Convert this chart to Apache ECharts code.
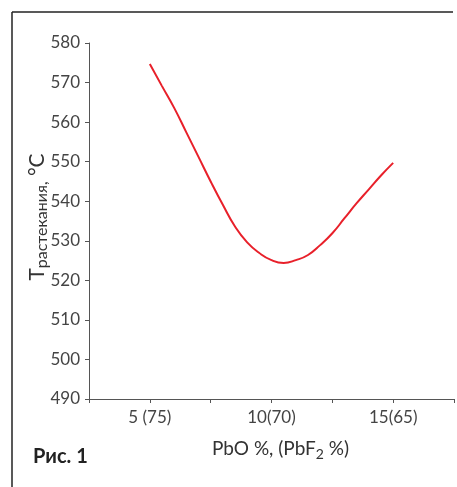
<!DOCTYPE html>
<html>
<head>
<meta charset="utf-8">
<script src="https://cdn.jsdelivr.net/npm/echarts@6/dist/echarts.min.js"></script>
<style>html,body{margin:0;padding:0;background:#fff;}#c{width:457px;height:487px;}</style>
</head>
<body>
<div id="c"></div>
<script>
var xValues = [5, 5.5, 6, 6.5, 7, 7.5, 8, 8.5, 9, 9.5, 10, 10.5, 11, 11.5, 12, 12.5, 13, 13.5, 14, 14.5, 15];
var yValues = [574.7, 569.1, 563.6, 557.4, 551.2, 545.0, 539.1, 533.6, 529.6, 526.9, 525.1, 524.4, 525.1, 526.4, 528.9, 531.9, 535.7, 539.5, 543.0, 546.5, 549.7];
var xTickLabels = {5: '5 (75)', 10: '10(70)', 15: '15(65)'};
var yTicks = [490, 500, 510, 520, 530, 540, 550, 560, 570, 580];

var font = 'Lato, "Open Sans", sans-serif';
var chart = echarts.init(document.getElementById('c'));
chart.setOption({
  animation: false,
  grid: {left: 89, right: 0, top: 43, bottom: 88},
  xAxis: {
    type: 'value', min: 2.5, max: 17.5, interval: 2.5,
    splitLine: {show: false},
    axisLine: {lineStyle: {color: '#555', width: 1}},
    axisTick: {length: 4, lineStyle: {color: '#555'}},
    axisLabel: {
      color: '#444', fontSize: 17, fontFamily: font, margin: 10,
      showMinLabel: true, showMaxLabel: true,
      formatter: function (v) { return xTickLabels[v] || ''; }
    },
    name: '{a|PbO %, (PbF}{s|2}{a| %)}',
    nameLocation: 'middle', nameGap: 38,
    nameTextStyle: {
      color: '#333', fontFamily: font, padding: [0, 0, 0, 18],
      rich: {
        a: {fontSize: 19, fontFamily: font, color: '#333'},
        s: {fontSize: 14, fontFamily: font, color: '#333', verticalAlign: 'top', padding: [10, 0, 0, 0]}
      }
    }
  },
  yAxis: {
    type: 'value', min: yTicks[0], max: yTicks[yTicks.length - 1], interval: 10,
    splitLine: {show: false},
    axisLine: {show: true, lineStyle: {color: '#555', width: 1}},
    axisTick: {show: true, length: 4, lineStyle: {color: '#555'}},
    axisLabel: {color: '#444', fontSize: 17, fontFamily: font, margin: 9},
    name: '{t|T}{s|растекания,}{c| °C}',
    nameLocation: 'middle', nameGap: 39, nameMoveOverlap: false,
    nameTextStyle: {
      fontFamily: font, padding: [0, 0, 0, 8],
      rich: {
        t: {fontSize: 21, fontFamily: font, color: '#333'},
        s: {fontSize: 16, fontFamily: font, color: '#333', verticalAlign: 'top', padding: [10, 0, 0, 0]},
        c: {fontSize: 21, fontFamily: font, color: '#333'}
      }
    }
  },
  series: [{
    type: 'line', smooth: 0.5, symbol: 'none',
    lineStyle: {color: '#e8202a', width: 2},
    data: xValues.map(function (x, i) { return [x, yValues[i]]; })
  }],
  graphic: [
    {type: 'line', shape: {x1: 12, y1: 12, x2: 453, y2: 12}, style: {stroke: '#222', lineWidth: 1.5}},
    {type: 'line', shape: {x1: 12, y1: 12, x2: 12, y2: 487}, style: {stroke: '#222', lineWidth: 1.5}},
    {type: 'text', left: 33, top: 447, style: {text: 'Рис. 1', font: 'bold 20px ' + font, fill: '#222'}}
  ]
});
</script>
</body>
</html>
